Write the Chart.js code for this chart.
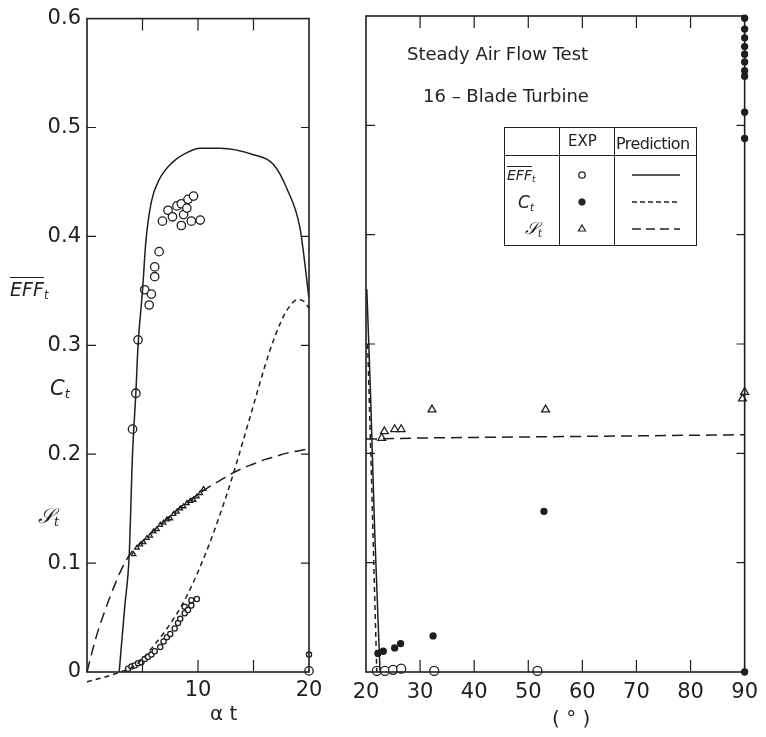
<!DOCTYPE html>
<html>
<head>
<meta charset="utf-8">
<script src="https://cdn.jsdelivr.net/npm/chart.js@4.4.1/dist/chart.umd.min.js"></script>
<style>
  html,body{margin:0;padding:0;background:#fff;}
  #wrap{position:relative;width:766px;height:737px;overflow:hidden;font-family:"DejaVu Sans",sans-serif;color:#222;}
  canvas{position:absolute;left:0;top:0;}
  .t{position:absolute;white-space:nowrap;line-height:1;}
  .it{font-style:italic;}
  .ov{text-decoration:overline;}
  sub{font-size:60%;vertical-align:-0.25em;}
  #legend{position:absolute;left:504px;top:127px;width:193px;height:119px;border:1.5px solid #222;box-sizing:border-box;}
  .vl{position:absolute;top:0;bottom:0;border-left:1.2px solid #222;}
  .hl{position:absolute;left:0;right:0;border-top:1.2px solid #222;}
  #legsvg{position:absolute;left:0;top:0;}
</style>
</head>
<body>
<div id="wrap">
<canvas id="cL" width="766" height="737"></canvas>
<canvas id="cR" width="766" height="737"></canvas>

<div class="t" style="left:407px;top:45px;font-size:18px;">Steady Air Flow Test</div>
<div class="t" style="left:423px;top:87px;font-size:18px;">16 – Blade Turbine</div>

<div id="legend">
  <div class="vl" style="left:54px;"></div>
  <div class="vl" style="left:109px;"></div>
  <div class="hl" style="top:27px;"></div>
  <div class="t" style="left:63px;top:6px;font-size:15px;">EXP</div>
  <div class="t" style="left:111px;top:8px;font-size:16px;letter-spacing:-0.6px;">Prediction</div>
  <div class="t it" style="left:2px;top:40px;font-size:14px;"><span class="ov">EFF</span><sub>t</sub></div>
  <div class="t it" style="left:13px;top:66px;font-size:17px;">C<sub>t</sub></div>
  <div class="t it" style="left:20px;top:92px;font-size:17px;font-family:'DejaVu Serif',serif;">𝒮<sub>t</sub></div>
  <svg id="legsvg" width="193" height="119">
    <circle cx="77" cy="47" r="3.2" fill="#fff" stroke="#222" stroke-width="1.3"/>
    <circle cx="77" cy="74" r="3.2" fill="#222" stroke="#222" stroke-width="1"/>
    <polygon points="77,97 80.5,103 73.5,103" fill="#fff" stroke="#222" stroke-width="1.2"/>
    <line x1="127" y1="47" x2="175" y2="47" stroke="#222" stroke-width="1.5"/>
    <line x1="127" y1="74" x2="175" y2="74" stroke="#222" stroke-width="1.5" stroke-dasharray="5,3"/>
    <line x1="127" y1="101" x2="175" y2="101" stroke="#222" stroke-width="1.5" stroke-dasharray="9,5"/>
  </svg>
</div>

<div class="t it" style="left:10px;top:280px;font-size:19px;"><span class="ov">EFF</span><sub>t</sub></div>
<div class="t it" style="left:50px;top:378px;font-size:21px;">C<sub>t</sub></div>
<div class="t it" style="left:38px;top:506px;font-size:21px;font-family:'DejaVu Serif',serif;">𝒮<sub>t</sub></div>
<div class="t" style="left:210px;top:703px;font-size:20px;">α t</div>
<div class="t" style="left:552px;top:708px;font-size:20px;">( ° )</div>
</div>

<script>
// ---------- DATA (left panel, x = αt) ----------
const effPredLeft = [[2.9,0],[3.4,0.06],[3.8,0.107],[4.1,0.2],[4.4,0.256],[4.6,0.3],[5.0,0.35],[5.3,0.395],[5.8,0.432],[6.5,0.452],[7.7,0.468],[9,0.477],[10.2,0.481],[12,0.481],[15,0.475],[16.8,0.466],[18,0.444],[19.2,0.407],[20,0.343]];
const ctPredLeft = [[0,-0.009],[1.5,-0.005],[3,0],[4,0.004],[5,0.012],[6,0.024],[7,0.037],[8,0.052],[9,0.07],[10,0.092],[11,0.117],[12,0.145],[13,0.176],[14,0.21],[15,0.245],[16,0.28],[17,0.31],[18,0.332],[19,0.342],[19.6,0.34],[20,0.334]];
const stPredLeft = [[0,0],[0.5,0.02],[1,0.038],[1.5,0.053],[2,0.067],[2.5,0.08],[3,0.092],[3.5,0.102],[4,0.11],[5,0.12],[6,0.13],[7,0.139],[8,0.148],[9,0.156],[10,0.163],[11,0.17],[12,0.176],[13,0.182],[14,0.187],[15,0.191],[16,0.195],[17,0.198],[18,0.201],[19,0.203],[20,0.205]];
const effExpLeft = [[4.1,0.223],[4.4,0.256],[4.6,0.305],[5.2,0.351],[5.6,0.337],[5.8,0.347],[6.1,0.363],[6.1,0.372],[6.5,0.386],[6.8,0.414],[7.3,0.424],[7.7,0.418],[8.1,0.428],[8.5,0.43],[8.5,0.41],[8.7,0.42],[9.0,0.426],[9.1,0.434],[9.4,0.414],[9.6,0.437],[10.2,0.415],[20,0.001]];
const ctExpLeft = [[3.7,0.003],[4.0,0.005],[4.3,0.006],[4.6,0.008],[4.9,0.009],[5.2,0.012],[5.5,0.014],[5.8,0.016],[6.1,0.019],[6.6,0.023],[6.9,0.028],[7.2,0.032],[7.5,0.035],[7.9,0.04],[8.2,0.045],[8.4,0.049],[8.8,0.054],[8.8,0.06],[9.1,0.057],[9.4,0.061],[9.4,0.066],[9.9,0.067],[20,0.016]];
const stExpLeft = [[4.2,0.108],[4.5,0.114],[4.8,0.117],[5.1,0.119],[5.4,0.123],[5.7,0.125],[6.0,0.129],[6.3,0.131],[6.6,0.135],[6.9,0.137],[7.2,0.14],[7.5,0.141],[7.8,0.145],[8.1,0.147],[8.4,0.15],[8.7,0.152],[9.0,0.155],[9.3,0.157],[9.6,0.158],[9.9,0.161],[10.2,0.164],[10.5,0.168]];

// ---------- DATA (right panel, x = degrees) ----------
const effPredRight = [[20.15,0.35],[20.8,0.26],[21.6,0.13],[22.6,0]];
const ctPredRight = [[20.3,0.3],[21.0,0.18],[21.6,0.07],[22.0,0]];
const stPredRight = [[20,0.213],[30,0.214],[50,0.215],[70,0.216],[90,0.217]];
const effExpRight = [[22,0.001],[23.5,0.001],[25,0.002],[26.5,0.003],[32.6,0.001],[51.7,0.001]];
const ctExpRight = [[22.2,0.017],[23.2,0.019],[25.3,0.022],[26.4,0.026],[32.4,0.033],[52.9,0.147],[90,0],[90,0.488],[90,0.512],[90,0.545],[90,0.55],[90,0.558],[90,0.565],[90,0.572],[90,0.58],[90,0.588],[90,0.598]];
const stExpRight = [[22.9,0.214],[23.4,0.22],[25.3,0.222],[26.5,0.222],[32.2,0.24],[53.2,0.24],[89.6,0.25],[90,0.256],[90.2,0.252]];

const yTicks = [0,0.1,0.2,0.3,0.4,0.5,0.6];
const leftXTicks = [10,20];
const rightXTicks = [20,30,40,50,60,70,80,90];

const pts = a => a.map(p => ({x:p[0], y:p[1]}));
const INK = '#1e1e1e';
const FONT = {family:'DejaVu Sans', size:21};

function frame(innerX, innerY){
  return {
    id:'frame',
    afterDraw(chart){
      const {ctx, chartArea:a, scales} = chart;
      ctx.save();
      ctx.strokeStyle = INK; ctx.lineWidth = 1.6; ctx.setLineDash([]);
      ctx.strokeRect(a.left, a.top, a.right-a.left, a.bottom-a.top);
      ctx.lineWidth = 1.2;
      ctx.beginPath();
      innerX.forEach(v => {
        const px = scales.x.getPixelForValue(v);
        ctx.moveTo(px, a.bottom); ctx.lineTo(px, a.bottom-12);
        ctx.moveTo(px, a.top); ctx.lineTo(px, a.top+12);
      });
      innerY.forEach(v => {
        const py = scales.y.getPixelForValue(v);
        ctx.moveTo(a.left, py); ctx.lineTo(a.left+9, py);
        ctx.moveTo(a.right, py); ctx.lineTo(a.right-8, py);
      });
      ctx.stroke();
      ctx.restore();
    }
  };
}

const lineDs = (data, dash, clip) => ({data:pts(data), showLine:true, pointRadius:0, borderColor:INK, borderWidth:1.5, borderDash:dash, fill:false, tension:0.35, cubicInterpolationMode:'monotone', clip: clip===undefined?0:clip});
const ptDs = (data, style, r, filled) => ({data:pts(data), showLine:false, pointStyle:style, pointRadius:r, pointBorderWidth:1.3, pointBorderColor:INK, pointBackgroundColor: filled?INK:'#fff', clip:6});

new Chart(document.getElementById('cL'), {
  type:'scatter',
  data:{datasets:[
    lineDs(effPredLeft, []),
    lineDs(ctPredLeft, [5,4], 12),
    lineDs(stPredLeft, [11,6], 4),
    ptDs(stExpLeft, 'triangle', 2.6, false),
    ptDs(ctExpLeft, 'circle', 2.6, false),
    ptDs(effExpLeft, 'circle', 4.2, false)
  ]},
  options:{
    responsive:false, animation:false, devicePixelRatio:1,
    layout:{padding:{left:0, right:457, top:16, bottom:0}},
    plugins:{legend:{display:false}, tooltip:{enabled:false}},
    scales:{
      x:{type:'linear', min:0, max:20,
         afterBuildTicks: s => { s.ticks = leftXTicks.map(v => ({value:v})); },
         ticks:{font:FONT, color:INK, padding:6, maxRotation:0, autoSkip:false},
         grid:{display:false, drawTicks:false}, border:{display:false},
         afterFit: s => { s.height = 65; }},
      y:{type:'linear', min:0, max:0.6,
         afterBuildTicks: s => { s.ticks = yTicks.map(v => ({value:v})); },
         ticks:{font:FONT, color:INK, padding:6, callback: v => v===0 ? '0' : v.toFixed(1)},
         grid:{display:false, drawTicks:false}, border:{display:false},
         afterFit: s => { s.width = 87; }}
    }
  },
  plugins:[frame([5,10,15],[0.1,0.2,0.3,0.4,0.5])]
});

new Chart(document.getElementById('cR'), {
  type:'scatter',
  data:{datasets:[
    lineDs(effPredRight, [], 0),
    lineDs(ctPredRight, [5,4], 0),
    lineDs(stPredRight, [11,6], 0),
    ptDs(stExpRight, 'triangle', 4.5, false),
    ptDs(ctExpRight, 'circle', 3, true),
    ptDs(effExpRight, 'circle', 4.5, false)
  ]},
  options:{
    responsive:false, animation:false, devicePixelRatio:1,
    layout:{padding:{left:366, right:16, top:16, bottom:0}},
    plugins:{legend:{display:false}, tooltip:{enabled:false}},
    scales:{
      x:{type:'linear', min:20, max:90,
         afterBuildTicks: s => { s.ticks = rightXTicks.map(v => ({value:v})); },
         ticks:{font:FONT, color:INK, padding:8, maxRotation:0, autoSkip:false},
         grid:{display:false, drawTicks:false}, border:{display:false},
         afterFit: s => { s.height = 65; }},
      y:{type:'linear', min:0, max:0.6, display:false}
    }
  },
  plugins:[frame([30,40,50,60,70,80],[0.1,0.2,0.3,0.4,0.5])]
});
</script>
</body>
</html>
